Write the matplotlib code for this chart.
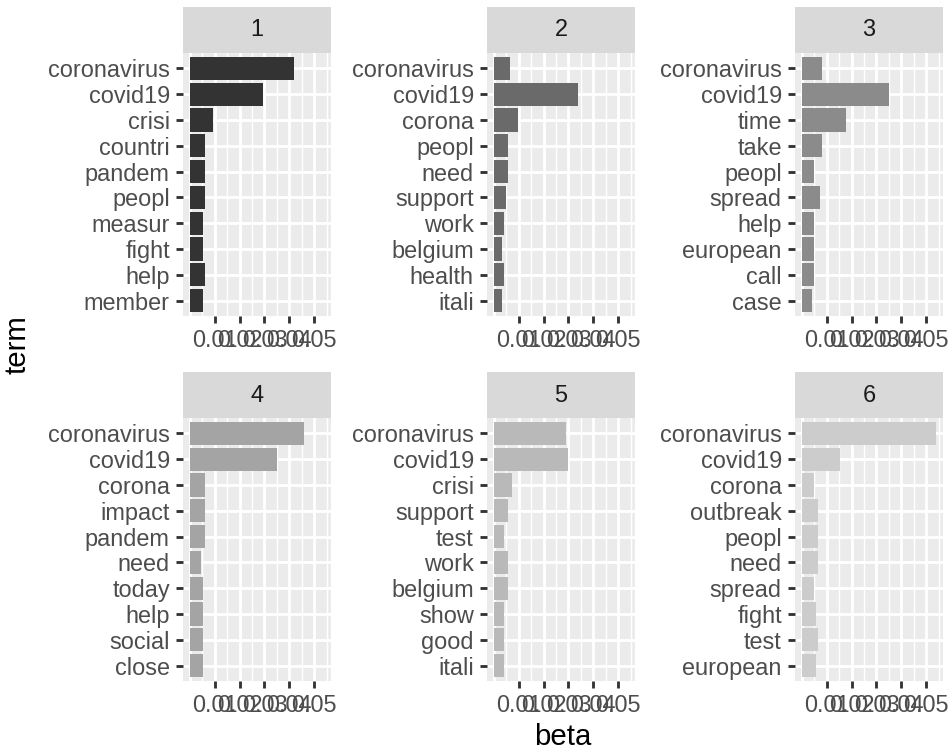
import matplotlib.pyplot as plt
import numpy as np

plt.rcParams['font.family'] = ['Liberation Sans', 'DejaVu Sans']

# top terms per topic (beta = per-topic word probability)
topics = ['1', '2', '3', '4', '5', '6']

terms_1 = ['coronavirus', 'covid19', 'crisi', 'countri', 'pandem', 'peopl', 'measur', 'fight', 'help', 'member']
beta_1 = [0.0418, 0.0293, 0.0095, 0.0062, 0.0062, 0.0062, 0.0055, 0.0055, 0.0062, 0.0055]

terms_2 = ['coronavirus', 'covid19', 'corona', 'peopl', 'need', 'support', 'work', 'belgium', 'health', 'itali']
beta_2 = [0.0065, 0.0340, 0.0098, 0.0056, 0.0056, 0.0048, 0.0040, 0.0032, 0.0040, 0.0032]

terms_3 = ['coronavirus', 'covid19', 'time', 'take', 'peopl', 'spread', 'help', 'european', 'call', 'case']
beta_3 = [0.0081, 0.0351, 0.0178, 0.0081, 0.0049, 0.0073, 0.0049, 0.0049, 0.0049, 0.0041]

terms_4 = ['coronavirus', 'covid19', 'corona', 'impact', 'pandem', 'need', 'today', 'help', 'social', 'close']
beta_4 = [0.0458, 0.0352, 0.0062, 0.0062, 0.0062, 0.0046, 0.0055, 0.0055, 0.0055, 0.0055]

terms_5 = ['coronavirus', 'covid19', 'crisi', 'support', 'test', 'work', 'belgium', 'show', 'good', 'itali']
beta_5 = [0.0289, 0.0298, 0.0073, 0.0056, 0.0040, 0.0056, 0.0056, 0.0040, 0.0040, 0.0040]

terms_6 = ['coronavirus', 'covid19', 'corona', 'outbreak', 'peopl', 'need', 'spread', 'fight', 'test', 'european']
beta_6 = [0.0540, 0.0154, 0.0049, 0.0064, 0.0064, 0.0064, 0.0049, 0.0057, 0.0064, 0.0057]

x_breaks = [0.01, 0.02, 0.03, 0.04, 0.05]
x_labels = ['0.01', '0.02', '0.03', '0.04', '0.05']

all_terms = [terms_1, terms_2, terms_3, terms_4, terms_5, terms_6]
all_beta = [beta_1, beta_2, beta_3, beta_4, beta_5, beta_6]
fills = ['#333333', '#6A6A6A', '#8B8B8B', '#A4A4A4', '#B9B9B9', '#CCCCCC']

W, H = 950, 753
DPI = 192
fig = plt.figure(figsize=(W / DPI, H / DPI), dpi=DPI)

col_left = [183, 487, 795]
row_top = [53, 418]
panel_w, panel_h = 148, 263
strip_h = 46

bmax = max(max(b) for b in all_beta)
xlim = (-0.05 * bmax, 1.05 * bmax)
major = np.arange(0, 0.051, 0.01)
minor = np.arange(0.005, xlim[1], 0.01)

for k in range(6):
    r, c = divmod(k, 3)
    x0, y0 = col_left[c], row_top[r]
    ax = fig.add_axes([x0 / W, 1 - (y0 + panel_h) / H, panel_w / W, panel_h / H])
    ax.set_facecolor('#EBEBEB')
    n = len(all_terms[k])
    ypos = np.arange(n)[::-1]

    for v in minor:
        ax.axvline(v, color='white', lw=0.53, zorder=0)
    for v in major:
        ax.axvline(v, color='white', lw=1.07, zorder=0)
    for v in ypos:
        ax.axhline(v, color='white', lw=1.07, zorder=0)

    ax.barh(ypos, all_beta[k], height=0.9, color=fills[k], zorder=2)

    ax.set_xlim(*xlim)
    ax.set_ylim(-0.6, n - 0.4)
    ax.set_xticks(x_breaks)
    ax.set_xticklabels(x_labels)
    ax.set_yticks(ypos)
    ax.set_yticklabels(all_terms[k])
    ax.tick_params(axis='both', length=2.75, width=1.07, color='#333333',
                   labelsize=8.8, labelcolor='#4D4D4D', pad=2.2)
    for s in ax.spines.values():
        s.set_visible(False)

    # facet strip
    sax = fig.add_axes([x0 / W, 1 - y0 / H, panel_w / W, strip_h / H])
    sax.set_facecolor('#D9D9D9')
    sax.set_xticks([])
    sax.set_yticks([])
    for s in sax.spines.values():
        s.set_visible(False)
    sax.text(0.5, 0.5, topics[k], ha='center', va='center', fontsize=8.8,
             color='#1A1A1A', transform=sax.transAxes)

fig.text(18 / W, 1 - 345 / H, 'term', rotation=90, ha='center', va='center',
         fontsize=11, color='black')
fig.text(563 / W, 1 - 737 / H, 'beta', ha='center', va='center',
         fontsize=11, color='black')

fig.savefig('out.png', dpi=DPI, facecolor='white')
